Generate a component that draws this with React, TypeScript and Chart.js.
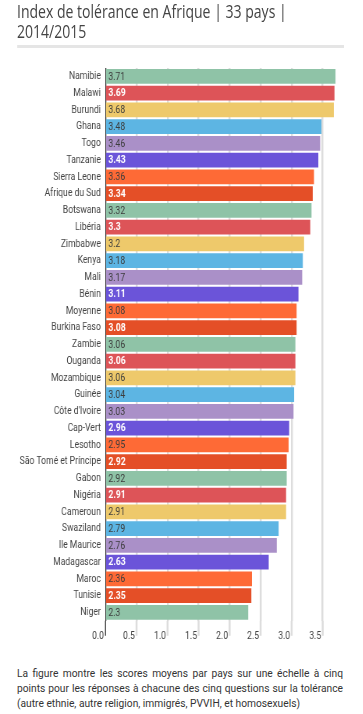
import React, { useEffect, useRef } from "react";
import { Chart, registerables } from "chart.js";

Chart.register(...registerables);

const countries: string[] = [
  "Namibie", "Malawi", "Burundi", "Ghana", "Togo", "Tanzanie", "Sierra Leone",
  "Afrique du Sud", "Botswana", "Libéria", "Zimbabwe", "Kenya", "Mali", "Bénin",
  "Moyenne", "Burkina Faso", "Zambie", "Ouganda", "Mozambique", "Guinée",
  "Côte d'Ivoire", "Cap-Vert", "Lesotho", "São Tomé et Príncipe", "Gabon",
  "Nigéria", "Cameroun", "Swaziland", "Ile Maurice", "Madagascar", "Maroc",
  "Tunisie", "Niger",
];

const scores: number[] = [
  3.71, 3.69, 3.68, 3.48, 3.46, 3.43, 3.36, 3.34, 3.32, 3.3, 3.2, 3.18, 3.17,
  3.11, 3.08, 3.08, 3.06, 3.06, 3.06, 3.04, 3.03, 2.96, 2.95, 2.92, 2.92, 2.91,
  2.91, 2.79, 2.76, 2.63, 2.36, 2.35, 2.3,
];

const tickValues: number[] = [0, 0.5, 1, 1.5, 2, 2.5, 3, 3.5];

const palette: string[] = [
  "#8fc3a7", "#dd5458", "#eec96b", "#5db5e3", "#aa90c8", "#6b54d9", "#fe6a36", "#e44f27",
];
const whiteLabelColors: string[] = ["#dd5458", "#6b54d9", "#e44f27"];

const title = "Index de tolérance en Afrique | 33 pays | 2014/2015";
const caption =
  "La figure montre les scores moyens par pays sur une échelle à cinq points pour les réponses à chacune des cinq questions sur la tolérance (autre ethnie, autre religion, immigrés, PVVIH, et homosexuels)";

const SX = 0.78; // horizontal squeeze of the chart/title
const CAP_SX = 0.93; // horizontal squeeze of the caption
const W = 363 / SX;
const FONT = "Roboto, 'Liberation Sans', Arial, sans-serif";

export default function App() {
  const ref = useRef<HTMLCanvasElement | null>(null);

  useEffect(() => {
    if (!ref.current) return;
    const colors = scores.map((_, i) => palette[i % palette.length]);
    const gridColor = (v: number) => (v === 0 ? "#333333" : "#dddddd");
    const gridWidth = (v: number) => (v === 0 ? 1.3 : 2.5);

    const valueLabels = {
      id: "valueLabels",
      afterDatasetsDraw(chart: any) {
        const ctx = chart.ctx;
        const meta = chart.getDatasetMeta(0);
        ctx.save();
        ctx.textBaseline = "middle";
        ctx.textAlign = "left";
        meta.data.forEach((bar: any, i: number) => {
          const c = colors[i];
          const white = whiteLabelColors.includes(c);
          ctx.font = `${white ? "bold " : ""}11px ${FONT}`;
          ctx.fillStyle = white ? "#ffffff" : "#3d3d3d";
          ctx.fillText(String(scores[i]), bar.base + 3, bar.y + 0.5);
        });
        ctx.restore();
      },
    };

    const gridExtension = {
      id: "gridExtension",
      afterDraw(chart: any) {
        const ctx = chart.ctx;
        const xs = chart.scales.x;
        const bottom = chart.chartArea.bottom;
        ctx.save();
        xs.ticks.forEach((t: any) => {
          const x = xs.getPixelForValue(t.value);
          ctx.strokeStyle = gridColor(t.value);
          ctx.lineWidth = gridWidth(t.value);
          ctx.beginPath();
          ctx.moveTo(x, bottom);
          ctx.lineTo(x, bottom + 15);
          ctx.stroke();
        });
        ctx.restore();
      },
    };

    const chart = new Chart(ref.current, {
      type: "bar",
      data: {
        labels: countries,
        datasets: [
          {
            data: scores,
            backgroundColor: colors,
            borderWidth: 0,
            barPercentage: 0.88,
            categoryPercentage: 1,
          },
        ],
      },
      options: {
        indexAxis: "y",
        animation: false,
        responsive: false,
        maintainAspectRatio: false,
        layout: { padding: { top: 18, right: 27 / SX, bottom: 3, left: 0 } },
        plugins: {
          legend: { display: false },
          tooltip: { enabled: false },
        },
        scales: {
          x: {
            type: "linear",
            min: 0,
            max: 3.71,
            border: { display: false },
            afterBuildTicks: (s: any) => {
              s.ticks = tickValues.map((v) => ({ value: v }));
            },
            grid: {
              color: (c: any) => gridColor(c.tick ? c.tick.value : 1),
              lineWidth: (c: any) => gridWidth(c.tick ? c.tick.value : 1),
              drawTicks: false,
            },
            ticks: {
              align: "end",
              padding: 9,
              labelOffset: -2,
              color: "#444444",
              font: { family: FONT, size: 11 },
              maxRotation: 0,
              autoSkip: false,
              callback: (v: any) => Number(v).toFixed(1),
            },
          } as any,
          y: {
            border: { display: false },
            grid: { display: false, drawTicks: false },
            ticks: {
              padding: 6,
              color: "#444444",
              font: { family: FONT, size: 11 },
              autoSkip: false,
            },
            afterFit: (s: any) => {
              s.width = 105.5 / SX;
            },
          } as any,
        },
      },
      plugins: [valueLabels, gridExtension],
    } as any);
    return () => chart.destroy();
  }, []);

  return (
    <div style={{ position: "absolute", left: 0, top: 0, width: 363, height: 714, overflow: "hidden", background: "#fff" }}>
      <div
        style={{
          position: "absolute",
          left: 0,
          top: 0,
          width: W,
          height: 660,
          transform: `scaleX(${SX})`,
          transformOrigin: "0 0",
        }}
      >
        <div
          style={{
            position: "absolute",
            left: 17 / SX,
            top: 2,
            width: 330 / SX,
            fontFamily: "'Open Sans', Roboto, sans-serif",
            fontSize: 18,
            lineHeight: "19.5px",
            color: "#444",
          }}
        >
          {title}
        </div>
        <div style={{ position: "absolute", left: 17 / SX, top: 45, width: 327 / SX, height: 3, background: "#e5e5e5" }} />
        <canvas
          ref={ref}
          width={Math.round(W)}
          height={605}
          style={{ position: "absolute", left: 0, top: 50, width: Math.round(W), height: 605 }}
        />
      </div>
      <div
        style={{
          position: "absolute",
          left: 17,
          top: 666,
          width: 326 / CAP_SX,
          transform: `scaleX(${CAP_SX})`,
          transformOrigin: "0 0",
          fontFamily: FONT,
          fontSize: 11,
          lineHeight: "15px",
          color: "#333",
          textAlign: "justify",
        }}
      >
        {caption}
      </div>
    </div>
  );
}
